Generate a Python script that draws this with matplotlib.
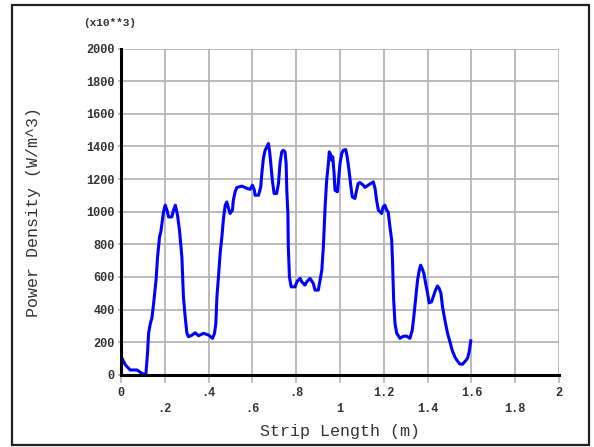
import matplotlib
matplotlib.use('Agg')
import matplotlib.pyplot as plt
from matplotlib.patches import Rectangle

# Strip length (m) vs power density (x10**3 W/m^3)
strip_len = [0.0, 0.005, 0.02, 0.042, 0.073, 0.096, 0.108, 0.114, 0.121, 0.126,
             0.134, 0.141, 0.149, 0.160, 0.167, 0.176, 0.182, 0.187, 0.194, 0.202,
             0.210, 0.217, 0.232, 0.240, 0.248, 0.258, 0.267, 0.278, 0.285, 0.293,
             0.301, 0.308, 0.324, 0.339, 0.354, 0.377, 0.400, 0.418, 0.427, 0.433,
             0.438, 0.445, 0.453, 0.461, 0.468, 0.476, 0.483, 0.491, 0.498, 0.509,
             0.513, 0.521, 0.529, 0.552, 0.575, 0.590, 0.600, 0.609, 0.612, 0.628,
             0.638, 0.643, 0.650, 0.658, 0.666, 0.673, 0.678, 0.684, 0.691, 0.699,
             0.711, 0.719, 0.726, 0.734, 0.741, 0.749, 0.754, 0.757, 0.762, 0.764,
             0.769, 0.777, 0.795, 0.803, 0.818, 0.825, 0.840, 0.848, 0.863, 0.878,
             0.886, 0.901, 0.909, 0.917, 0.924, 0.932, 0.939, 0.947, 0.951, 0.958,
             0.962, 0.967, 0.973, 0.977, 0.988, 0.992, 1.000, 1.008, 1.015, 1.026,
             1.033, 1.041, 1.050, 1.056, 1.068, 1.076, 1.083, 1.091, 1.106, 1.114,
             1.129, 1.152, 1.160, 1.167, 1.175, 1.190, 1.197, 1.205, 1.213, 1.220,
             1.228, 1.236, 1.240, 1.245, 1.251, 1.259, 1.274, 1.289, 1.304, 1.319,
             1.330, 1.337, 1.346, 1.354, 1.362, 1.368, 1.375, 1.383, 1.391, 1.400,
             1.407, 1.418, 1.426, 1.436, 1.445, 1.453, 1.461, 1.468, 1.479, 1.491,
             1.502, 1.512, 1.524, 1.535, 1.547, 1.559, 1.570, 1.582, 1.590, 1.597]
power = [115, 100, 60, 29, 29, 8, 0, 10, 130, 254,
         315, 346, 438, 580, 723, 846, 877, 928, 999, 1040,
         1010, 968, 968, 1010, 1040, 979, 887, 723, 478, 356,
         254, 233, 243, 257, 239, 254, 243, 223, 254, 315,
         478, 600, 750, 850, 960, 1040, 1060, 1020, 989, 1010,
         1071, 1122, 1149, 1157, 1143, 1137, 1163, 1132, 1101, 1101,
         1152, 1234, 1326, 1377, 1397, 1418, 1377, 1296, 1193, 1112,
         1112, 1173, 1296, 1367, 1377, 1367, 1296, 1132, 989, 785,
         601, 539, 539, 570, 591, 570, 550, 570, 591, 560,
         519, 519, 580, 642, 785, 1030, 1193, 1296, 1367, 1347,
         1316, 1336, 1234, 1132, 1122, 1173, 1296, 1357, 1377, 1381,
         1336, 1255, 1152, 1091, 1081, 1132, 1173, 1179, 1163, 1149,
         1163, 1183, 1143, 1071, 1010, 989, 1030, 1040, 1010, 999,
         907, 826, 683, 458, 315, 254, 223, 236, 237, 223,
         274, 356, 478, 580, 642, 672, 652, 621, 560, 499,
         441, 447, 478, 519, 544, 529, 499, 417, 335, 254,
         202, 151, 110, 86, 66, 64, 80, 100, 141, 208]

x_ticks = [0, 0.2, 0.4, 0.6, 0.8, 1.0, 1.2, 1.4, 1.6, 1.8, 2.0]
x_tick_labels = ['0', '.2', '.4', '.6', '.8', '1', '1.2', '1.4', '1.6', '1.8', '2']
y_ticks = [0, 200, 400, 600, 800, 1000, 1200, 1400, 1600, 1800, 2000]

mono = 'Liberation Mono'
txt_col = '#333333'
grid_col = '#b4b4b4'

fig = plt.figure(figsize=(5.94, 4.47), dpi=100)
ax = fig.add_axes([0.2037, 0.1617, 0.7374, 0.7294])

ax.plot(strip_len, power, color='#0000ff', lw=2.2, zorder=3)

ax.set_xlim(0, 2)
ax.set_ylim(0, 2000)
ax.set_xticks(x_ticks)
# alternate labels go on a second row, like the original
ax.set_xticklabels([lab if i % 2 == 0 else '\n' + lab for i, lab in enumerate(x_tick_labels)])
ax.set_yticks(y_ticks)
ax.set_yticklabels([str(v) for v in y_ticks])

for lab in ax.get_xticklabels() + ax.get_yticklabels():
    lab.set_family(mono)
    lab.set_fontsize(8.6)
    lab.set_fontweight('bold')
    lab.set_color(txt_col)
for lab in ax.get_xticklabels():
    lab.set_linespacing(1.45)

ax.tick_params(axis='x', length=6, width=1.2, color=grid_col, pad=3)
ax.tick_params(axis='y', length=2.5, width=1.2, color=grid_col, pad=2)

ax.grid(True, color=grid_col, lw=1.3)
ax.set_axisbelow(True)
for side in ['top', 'right']:
    ax.spines[side].set_visible(False)
for side in ['left', 'bottom']:
    ax.spines[side].set_color('black')
    ax.spines[side].set_linewidth(2.2)
    ax.spines[side].set_zorder(4)

ax.set_xlabel('Strip Length (m)', family=mono, fontsize=12, color=txt_col)
ax.xaxis.set_label_coords(0.5, -0.15)
ax.set_ylabel('Power Density (W/m^3)', family=mono, fontsize=12, color=txt_col)
ax.yaxis.set_label_coords(-0.183, 0.5)

fig.text(83 / 594, 1 - 23 / 447, '(x10**3)', family=mono, fontsize=8,
         fontweight='bold', color=txt_col, ha='left', va='center')

fig.add_artist(Rectangle((0.0202, 0.0045), 0.971, 0.984, transform=fig.transFigure,
                         fill=False, lw=1.6, ec='#222222'))

fig.savefig('out.png', dpi=100)
